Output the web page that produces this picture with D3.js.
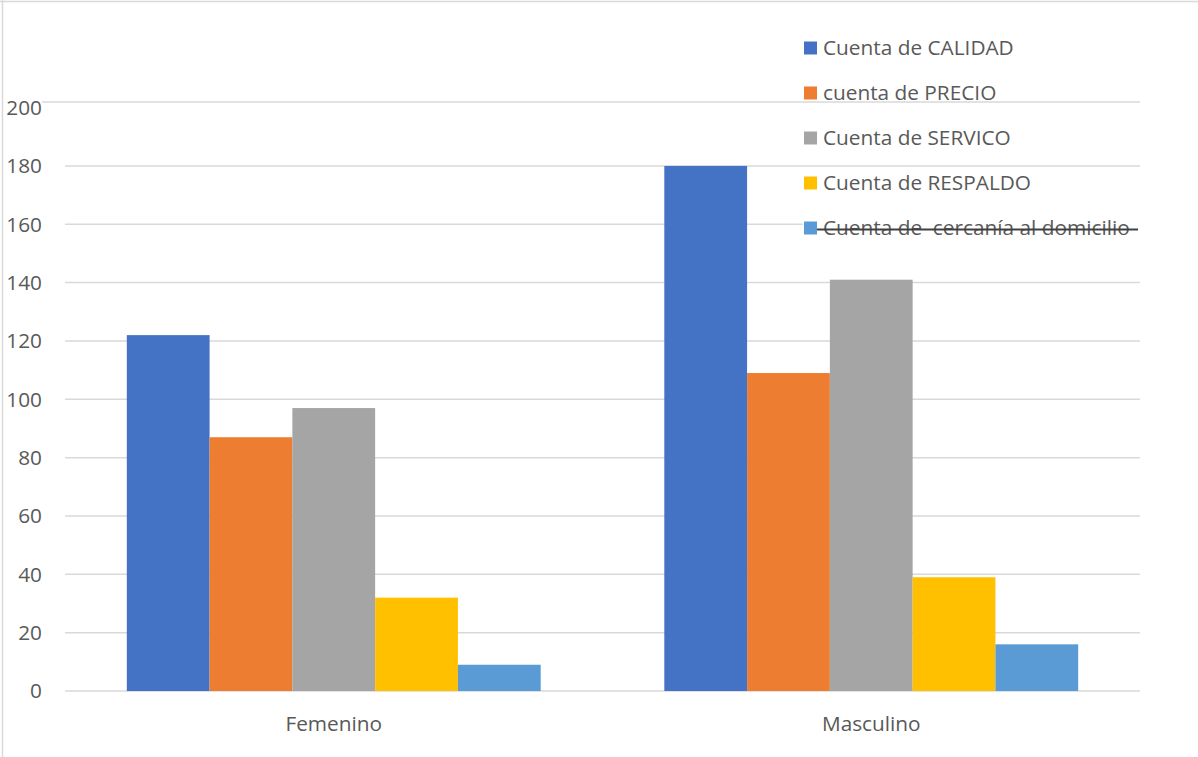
<!DOCTYPE html>
<html>
<head>
<meta charset="utf-8">
<script src="https://cdn.jsdelivr.net/npm/d3@7"></script>
<style>
  html, body { margin: 0; padding: 0; background: #fff; }
  svg { display: block; }
  text { font-family: "Open Sans", Lato, sans-serif; fill: #595959; }
</style>
</head>
<body>
<svg id="chart" width="1198" height="757"></svg>
<script>
// Categories, series and values
const categories = ["Femenino", "Masculino"];
const seriesNames = [
  "Cuenta de CALIDAD",
  "cuenta de PRECIO",
  "Cuenta de SERVICO",
  "Cuenta de RESPALDO",
  "Cuenta de  cercanía al domicilio"
];
const calidad = [122, 180];
const precio = [87, 109];
const servicio = [97, 141];
const respaldo = [32, 39];
const cercania = [9, 16];
const yTicks = [0, 20, 40, 60, 80, 100, 120, 140, 160, 180, 200];
const colors = ["#4472C4", "#ED7D31", "#A5A5A5", "#FFC000", "#5B9BD5"];

const seriesValues = [calidad, precio, servicio, respaldo, cercania];
const rows = categories.map((c, i) => ({
  category: c,
  values: seriesNames.map((s, j) => ({ key: s, value: seriesValues[j][i], color: colors[j] }))
}));

const svg = d3.select("#chart");
const W = 1198, H = 757;
const plot = { left: 65, right: 1140, top: 107.6, bottom: 691 };
const fontSize = "20.8px";

// Outer chart frame
svg.append("line").attr("x1", 0).attr("x2", W).attr("y1", 1.5).attr("y2", 1.5)
  .attr("stroke", "#d9d9d9").attr("stroke-width", 1.5);
svg.append("line").attr("x1", 2.5).attr("x2", 2.5).attr("y1", 0).attr("y2", H)
  .attr("stroke", "#d9d9d9").attr("stroke-width", 1.5);

const x0 = d3.scaleBand().domain(categories).range([plot.left, plot.right])
  .paddingInner(0.23).paddingOuter(0.115);
const x1 = d3.scaleBand().domain(seriesNames).range([0, x0.bandwidth()]).padding(0);
const y = d3.scaleLinear().domain([0, 200]).range([plot.bottom, plot.top]);

// Gridlines
const grid = svg.append("g");
grid.selectAll("line").data(yTicks.filter(t => t < 200)).join("line")
  .attr("x1", plot.left).attr("x2", plot.right)
  .attr("y1", d => y(d)).attr("y2", d => y(d))
  .attr("stroke", "#d9d9d9").attr("stroke-width", 1.5);
// Top edge of the plot area
grid.append("line").attr("x1", 42).attr("x2", plot.right)
  .attr("y1", y(200) - 5.5).attr("y2", y(200) - 5.5)
  .attr("stroke", "#d9d9d9").attr("stroke-width", 1.5);

// Y tick labels
svg.append("g").selectAll("text").data(yTicks).join("text")
  .attr("x", 42).attr("y", d => y(d))
  .attr("dy", "0.35em").attr("text-anchor", "end")
  .style("font-size", fontSize)
  .text(d => d);

// Bars
const groups = svg.append("g").selectAll("g").data(rows).join("g")
  .attr("transform", d => `translate(${x0(d.category)},0)`);
groups.selectAll("rect").data(d => d.values).join("rect")
  .attr("x", d => x1(d.key))
  .attr("width", x1.bandwidth())
  .attr("y", d => y(d.value))
  .attr("height", d => y(0) - y(d.value))
  .attr("fill", d => d.color);

// Category labels
svg.append("g").selectAll("text").data(categories).join("text")
  .attr("x", d => x0(d) + x0.bandwidth() / 2)
  .attr("y", 724).attr("dy", "0.35em").attr("text-anchor", "middle")
  .style("font-size", fontSize)
  .text(d => d);

// Legend
const legend = svg.append("g");
const legY = d => 48 + d * 45;
// background behind the last entry
legend.append("rect").attr("x", 803).attr("y", legY(4) - 14).attr("width", 337).attr("height", 28)
  .attr("fill", "#fff");
const items = legend.selectAll("g").data(seriesNames).join("g")
  .attr("transform", (d, i) => `translate(804,${legY(i)})`);
items.append("rect").attr("x", 0).attr("y", -6.5).attr("width", 13).attr("height", 13)
  .attr("fill", (d, i) => colors[i]);
items.append("text").attr("x", 19).attr("y", 0).attr("dy", "0.35em")
  .style("font-size", fontSize).style("white-space", "pre")
  .text(d => d);
// strike line through the last entry
legend.append("line").attr("x1", 817).attr("x2", 1138)
  .attr("y1", legY(4) + 1.5).attr("y2", legY(4) + 1.5)
  .attr("stroke", "#404040").attr("stroke-width", 2);
</script>
</body>
</html>
